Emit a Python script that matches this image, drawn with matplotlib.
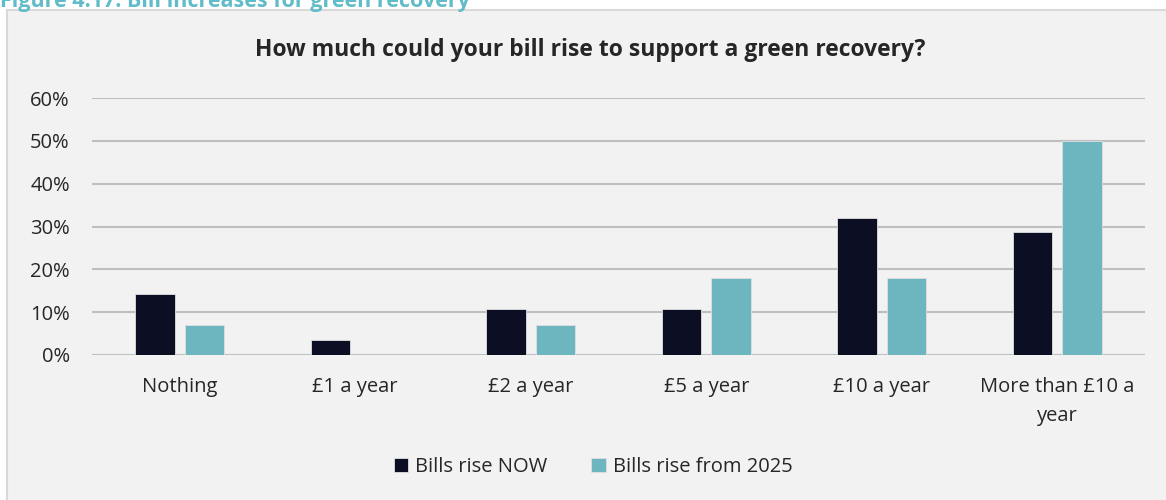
import matplotlib.pyplot as plt
from matplotlib.patches import Rectangle
import numpy as np

# survey answers, share of respondents
categories = ["Nothing", "£1 a year", "£2 a year", "£5 a year", "£10 a year", "More than £10 a\nyear"]
bills_now = [0.143, 0.036, 0.107, 0.107, 0.321, 0.286]
bills_2025 = [0.071, 0.0, 0.071, 0.179, 0.179, 0.50]
series_names = ["Bills rise NOW", "Bills rise from 2025"]

dark = "#0c0f24"
teal = "#6eb6bf"
text_col = "#262626"

plt.rcParams['font.family'] = ['Open Sans', 'DejaVu Sans']

fig = plt.figure(figsize=(11.66, 5), dpi=100)
fig.patch.set_facecolor("white")

# grey panel behind the chart
fig.patches.append(Rectangle((7 / 1166, -0.01), 1.1, 1 - 10 / 500 + 0.01,
                             transform=fig.transFigure, facecolor="#f2f2f2",
                             edgecolor="#d9d9d9", linewidth=1.5, zorder=-5))

# figure caption, partly cut off by the top edge
fig.text(0.0, 1 - 7 / 500, "Figure 4.17: Bill increases for green recovery",
         color="#5fbcc8", fontsize=15.5, fontweight="bold", va="baseline", ha="left")

ax = fig.add_axes([92 / 1166, 1 - 355 / 500, (1145 - 92) / 1166, (355 - 98) / 500])
ax.set_facecolor("none")
ax.set_zorder(2)

x = np.arange(len(categories))
w = 0.225
off = 0.141
ax.bar(x - off, bills_now, w, color=dark, edgecolor="#e0e0e0", linewidth=0.6,
       label=series_names[0], zorder=3)
ax.bar(x + off, bills_2025, w, color=teal, edgecolor="#e0e0e0", linewidth=0.6,
       label=series_names[1], zorder=3)

ax.set_xlim(-0.5, len(categories) - 0.5)
ax.set_ylim(0, 0.6)
ax.set_yticks(np.arange(0, 0.61, 0.1))
ax.set_yticklabels([f"{int(round(v * 100))}%" for v in np.arange(0, 0.61, 0.1)],
                   fontsize=14.5, color=text_col)
ax.set_xticks(x)
ax.set_xticklabels(categories, fontsize=14.5, color=text_col, linespacing=1.6)
ax.tick_params(axis="both", length=0)
ax.tick_params(axis="y", pad=16)
ax.tick_params(axis="x", pad=16)
ax.grid(axis="y", color="#bfbfbf", linewidth=1.5, zorder=0)
for s in ax.spines.values():
    s.set_visible(False)

fig.text(590 / 1166, 1 - 50 / 500, "How much could your bill rise to support a green recovery?",
         ha="center", va="center", fontsize=16.5, fontweight="bold", color=text_col)

leg = fig.legend(loc="center", bbox_to_anchor=(593 / 1166, 1 - 467 / 500), ncol=2,
                 frameon=False, fontsize=14.5, handlelength=0.7, handleheight=0.7,
                 handletextpad=0.35, columnspacing=2.2)
for t in leg.get_texts():
    t.set_color(text_col)

fig.savefig("out.png", dpi=100)
